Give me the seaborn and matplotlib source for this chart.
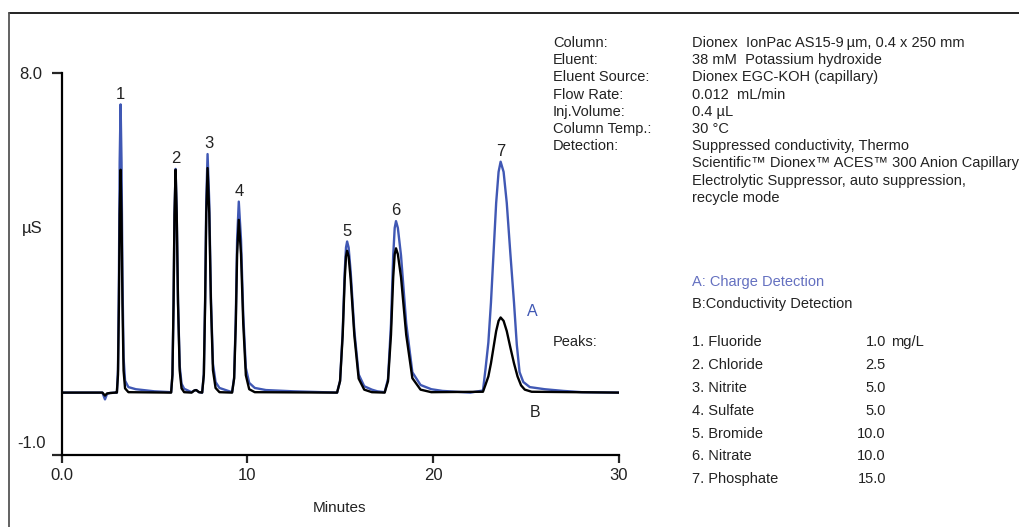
import matplotlib
matplotlib.use("Agg")
import matplotlib.pyplot as plt
import seaborn as sns
from matplotlib.lines import Line2D

# trace A (charge detection)
time_a = [0.0, 2.0, 2.2, 2.34, 2.45, 2.6, 2.9,
          2.98, 3.04, 3.09, 3.13, 3.18, 3.23, 3.28, 3.34, 3.42, 3.6, 4.0, 5.0,
          5.90, 5.97, 6.03, 6.08, 6.14, 6.20, 6.27, 6.36, 6.46, 6.6, 6.9,
          7.0, 7.15, 7.25, 7.4,
          7.57, 7.66, 7.73, 7.79, 7.86, 7.95, 8.04, 8.15, 8.29, 8.5, 8.9,
          9.18, 9.29, 9.38, 9.45, 9.54, 9.66, 9.78, 9.92, 10.1, 10.4, 11.0, 12.5,
          14.83, 14.99, 15.13, 15.24, 15.31, 15.37, 15.45, 15.56, 15.76, 15.99, 16.29, 16.7, 17.0,
          17.39, 17.57, 17.73, 17.85, 17.93, 18.0, 18.1, 18.27, 18.55, 18.88, 19.32, 19.9, 20.5,
          22.0, 22.68, 22.82, 22.97, 23.11, 23.25, 23.39, 23.52, 23.63, 23.79, 23.96,
          24.15, 24.35, 24.5, 24.65, 24.85, 25.2, 26.0, 27.0, 28.0, 30.0]
signal_a = [0.47, 0.47, 0.47, 0.31, 0.44, 0.46, 0.47,
            0.47, 1.01, 3.19, 5.90, 7.26, 5.90, 3.19, 1.30, 0.75, 0.60, 0.55, 0.50,
            0.48, 0.89, 2.57, 4.67, 5.74, 4.70, 2.62, 1.10, 0.68, 0.56, 0.50,
            0.48, 0.52, 0.53, 0.48,
            0.47, 0.92, 2.72, 4.97, 6.09, 4.97, 2.72, 1.15, 0.72, 0.58, 0.52,
            0.48, 0.83, 2.27, 4.07, 4.97, 4.07, 2.30, 1.05, 0.70, 0.58, 0.53, 0.50,
            0.47, 0.75, 1.89, 3.32, 3.89, 4.03, 3.89, 3.32, 1.92, 0.90, 0.62, 0.54, 0.50,
            0.48, 0.79, 2.09, 3.70, 4.35, 4.51, 4.35, 3.70, 2.10, 0.95, 0.65, 0.55, 0.51,
            0.47, 0.52, 1.04, 1.65, 2.59, 3.77, 4.94, 5.67, 5.91, 5.67, 4.94,
            3.77, 2.59, 1.60, 0.95, 0.72, 0.60, 0.55, 0.51, 0.48, 0.47]

# trace B (conductivity detection)
time_b = [0.0, 2.0, 2.2, 2.34, 2.45, 2.6, 2.9,
          2.98, 3.04, 3.09, 3.13, 3.18, 3.23, 3.28, 3.34, 3.42, 3.6,
          5.90, 5.97, 6.03, 6.08, 6.14, 6.20, 6.27, 6.36, 6.46, 6.6,
          7.0, 7.15, 7.25, 7.4,
          7.57, 7.66, 7.73, 7.79, 7.86, 7.95, 8.04, 8.15, 8.29, 8.5,
          9.18, 9.29, 9.38, 9.45, 9.54, 9.66, 9.78, 9.92, 10.1, 10.4,
          14.83, 14.99, 15.13, 15.24, 15.31, 15.37, 15.45, 15.56, 15.76, 15.99, 16.29, 16.7,
          17.39, 17.57, 17.73, 17.85, 17.93, 18.0, 18.1, 18.27, 18.55, 18.88, 19.32, 19.9,
          22.68, 22.82, 22.97, 23.11, 23.25, 23.39, 23.52, 23.63, 23.79, 23.96,
          24.15, 24.35, 24.54, 24.73, 24.93, 25.3, 30.0]
signal_b = [0.47, 0.47, 0.47, 0.40, 0.45, 0.46, 0.47,
            0.47, 0.89, 2.57, 4.67, 5.72, 4.67, 2.57, 0.99, 0.57, 0.48,
            0.47, 0.89, 2.57, 4.67, 5.72, 4.67, 2.57, 0.99, 0.57, 0.48,
            0.47, 0.52, 0.53, 0.48,
            0.47, 0.89, 2.59, 4.70, 5.76, 4.70, 2.59, 1.00, 0.58, 0.48,
            0.47, 0.80, 2.10, 3.73, 4.54, 3.73, 2.10, 0.88, 0.55, 0.48,
            0.47, 0.74, 1.81, 3.14, 3.68, 3.81, 3.68, 3.14, 1.81, 0.80, 0.54, 0.48,
            0.47, 0.74, 1.83, 3.19, 3.73, 3.87, 3.73, 3.19, 1.83, 0.81, 0.54, 0.48,
            0.49, 0.66, 0.85, 1.16, 1.54, 1.92, 2.16, 2.24, 2.16, 1.92,
            1.54, 1.16, 0.85, 0.64, 0.54, 0.49, 0.47]

# peak labels
peak_ids = ["1", "2", "3", "4", "5", "6", "7"]
peak_rt = [3.18, 6.14, 7.95, 9.54, 15.37, 18.0, 23.63]
peak_top = [7.26, 5.74, 6.09, 4.97, 4.03, 4.51, 5.91]

x_ticks = [0, 10, 20, 30]
x_tick_labels = ["0.0", "10", "20", "30"]

cond_labels = ["Column:", "Eluent:", "Eluent Source:", "Flow Rate:", "Inj.Volume:",
               "Column Temp.:", "Detection:", "", "", ""]
cond_values = ["Dionex  IonPac AS15-9\u2009\u00b5m, 0.4 x 250 mm",
               "38 mM  Potassium hydroxide",
               "Dionex EGC-KOH (capillary)",
               "0.012  mL/min",
               "0.4 \u00b5L",
               "30 \u00b0C",
               "Suppressed conductivity, Thermo",
               "Scientific\u2122 Dionex\u2122 ACES\u2122 300 Anion Capillary",
               "Electrolytic Suppressor, auto suppression,",
               "recycle mode"]

analytes = ["1. Fluoride", "2. Chloride", "3. Nitrite", "4. Sulfate",
            "5. Bromide", "6. Nitrate", "7. Phosphate"]
conc = ["1.0", "2.5", "5.0", "5.0", "10.0", "10.0", "15.0"]

blue = "#4058b4"
ink = "#222222"

sns.set_style("white")
plt.rcParams["font.family"] = ["Liberation Sans", "DejaVu Sans"]

W, H = 1019, 527
fig = plt.figure(figsize=(W / 100, H / 100), dpi=100)
ax = fig.add_axes([61.5 / W, 72 / H, (619 - 61.5) / W, (455 - 73) / H])

sns.lineplot(x=time_a, y=signal_a, color=blue, lw=1.7, estimator=None, ax=ax)
sns.lineplot(x=time_b, y=signal_b, color="black", lw=1.7, estimator=None, ax=ax)

ax.set_xlim(0, 30)
ax.set_ylim(-1, 8)
sns.despine(ax=ax)
for s in ["left", "bottom"]:
    ax.spines[s].set_linewidth(1.6)
    ax.spines[s].set_color("black")
ax.set_xticks(x_ticks)
ax.set_xticklabels(x_tick_labels)
ax.set_yticks([-1, 8])
ax.set_yticklabels(["", "8.0"])
ax.tick_params(axis="x", direction="out", length=6, width=1.6, pad=3,
               labelsize=12, labelcolor=ink, bottom=True)
ax.tick_params(axis="y", direction="out", length=7, width=1.6, pad=7,
               labelsize=12, labelcolor=ink, left=True)
ax.annotate("-1.0", xy=(0, -0.72), xycoords=("axes fraction", "data"),
            xytext=(-11, 0), textcoords="offset points", ha="right", va="center",
            fontsize=12, color=ink, annotation_clip=False)
ax.set_xlabel("")
ax.set_ylabel("")

for pid, t, top in zip(peak_ids, peak_rt, peak_top):
    ax.annotate(pid, xy=(t, top), xytext=(0, 2), textcoords="offset points",
                ha="center", va="bottom", fontsize=12, color=ink)

ax.text(25.35, 2.37, "A", color=blue, fontsize=11.5, ha="center", va="center")
ax.text(25.46, 0.0, "B", color=ink, fontsize=11.5, ha="center", va="center")

fig.text(32 / W, 1 - 228 / H, "\u00b5S", fontsize=12, color=ink, ha="center", va="center")
fig.text(340 / W, 1 - 508 / H, "Minutes", fontsize=11, color=ink, ha="center", va="center")

# conditions block
fs = 10.5
for i, (lab, val) in enumerate(zip(cond_labels, cond_values)):
    y = 1 - (43 + 17.2 * i) / H
    if lab:
        fig.text(553 / W, y, lab, fontsize=fs, color=ink, va="center")
    fig.text(692 / W, y, val, fontsize=fs, color=ink, va="center")

fig.text(692 / W, 1 - 282 / H, "A: Charge Detection", fontsize=fs, color="#6470c0", va="center")
fig.text(692 / W, 1 - 304 / H, "B:Conductivity Detection", fontsize=fs, color=ink, va="center")

fig.text(553 / W, 1 - 342 / H, "Peaks:", fontsize=fs, color=ink, va="center")
for i, (name, c) in enumerate(zip(analytes, conc)):
    y = 1 - (342 + 22.9 * i) / H
    fig.text(692 / W, y, name, fontsize=fs, color=ink, va="center")
    fig.text(886 / W, y, c, fontsize=fs, color=ink, va="center", ha="right")
fig.text(891 / W, 1 - 342 / H, "mg/L", fontsize=fs, color=ink, va="center")

# frame lines at top and left of the image
fig.add_artist(Line2D([8.5 / W, 1], [1 - 12.7 / H, 1 - 12.7 / H], color="#111111", lw=1.3))
fig.add_artist(Line2D([8.5 / W, 8.5 / W], [0, 1 - 12.7 / H], color="#555555", lw=1.3))

fig.savefig("out.png", dpi=100)
